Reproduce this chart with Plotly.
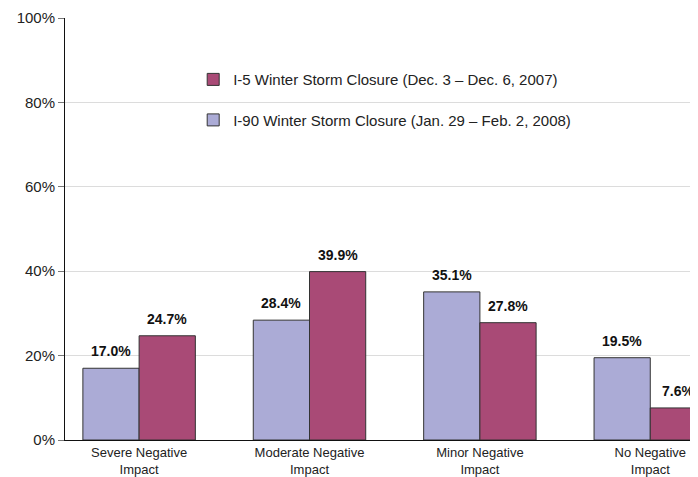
"""Winter storm closure impact chart"""

import plotly.graph_objects as go

categories = [
    "Severe Negative<br>Impact",
    "Moderate Negative<br>Impact",
    "Minor Negative<br>Impact",
    "No Negative<br>Impact",
]
i90_values = [17.0, 28.4, 35.1, 19.5]
i5_values = [24.7, 39.9, 27.8, 7.6]
i90_name = "I-90 Winter Storm Closure (Jan. 29 \u2013 Feb. 2, 2008)"
i5_name = "I-5 Winter Storm Closure (Dec. 3 \u2013 Dec. 6, 2007)"
y_ticks = [0, 20, 40, 60, 80, 100]
y_labels = [f"{t}%" for t in y_ticks]

FONT = "Liberation Sans, Arial, sans-serif"
LIGHT = "#ababd6"
DARK = "#a94a76"
BAR_W = 0.33

x_pos = list(range(len(categories)))

fig = go.Figure()

fig.add_trace(
    go.Bar(
        x=x_pos,
        y=i90_values,
        name=i90_name,
        width=BAR_W,
        offset=-BAR_W,
        marker=dict(color=LIGHT, line=dict(color="#333333", width=1)),
        legendgroup="a",
        legendrank=2,
    )
)
fig.add_trace(
    go.Bar(
        x=x_pos,
        y=i5_values,
        name=i5_name,
        width=BAR_W,
        offset=0,
        marker=dict(color=DARK, line=dict(color="#333333", width=1)),
        legendgroup="b",
        legendrank=1,
    )
)

# value labels above bars
for vals, shift in ((i90_values, -BAR_W / 2), (i5_values, BAR_W / 2)):
    for x, v in zip(x_pos, vals):
        fig.add_annotation(
            x=x + shift,
            y=v,
            text=f"<b>{v:.1f}%</b>",
            showarrow=False,
            yanchor="bottom",
            yshift=7,
            font=dict(size=14, color="#111111", family=FONT),
        )

# page body adds an 8px offset, margins compensate for it
fig.update_layout(
    width=698,
    height=477,
    margin=dict(l=57, r=0, t=10, b=45),
    paper_bgcolor="white",
    plot_bgcolor="white",
    font=dict(family=FONT, color="#222222"),
    barmode="overlay",
    showlegend=True,
    legend=dict(
        x=0.2,
        y=0.893,
        xanchor="left",
        yanchor="top",
        traceorder="grouped",
        tracegroupgap=18,
        bgcolor="rgba(0,0,0,0)",
        font=dict(size=15, family=FONT, color="#222222"),
    ),
    xaxis=dict(
        range=[-0.435, 3.327],
        tickvals=x_pos,
        ticktext=categories,
        tickfont=dict(size=13, family=FONT, color="#222222"),
        showline=True,
        linecolor="#111111",
        linewidth=1,
        ticks="",
        showgrid=False,
        zeroline=False,
        automargin=False,
    ),
    yaxis=dict(
        range=[0, 100],
        tickvals=y_ticks,
        ticktext=y_labels,
        tickfont=dict(size=15, family=FONT, color="#222222"),
        showline=True,
        linecolor="#111111",
        linewidth=1,
        ticks="outside",
        ticklen=6,
        tickcolor="#777777",
        showgrid=True,
        gridcolor="#dcdcdc",
        gridwidth=1,
        zeroline=False,
        automargin=False,
    ),
)

fig.write_html("out.html")
